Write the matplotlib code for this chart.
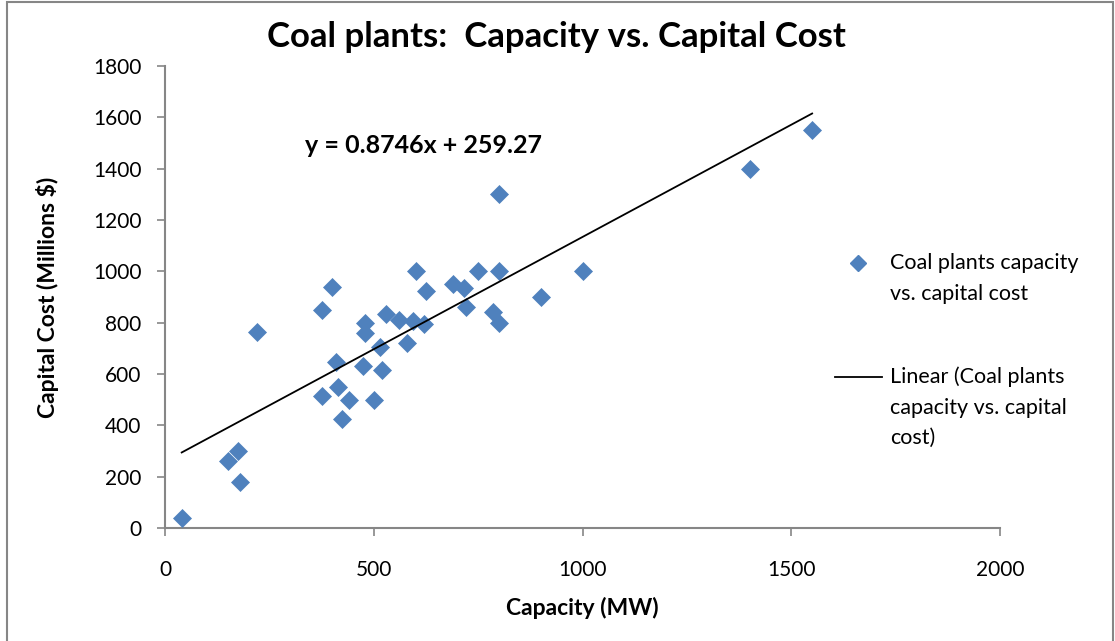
import matplotlib
matplotlib.use("Agg")
import matplotlib.pyplot as plt
from matplotlib.lines import Line2D
from matplotlib.patches import Rectangle
import numpy as np

plt.rcParams['font.family'] = ['Lato', 'DejaVu Sans']

# Plant capacity (MW) and capital cost (millions $)
capacity_mw = [40, 150, 175, 180, 220, 375, 400, 410, 415, 375, 425, 440,
               475, 480, 480, 500, 515, 520, 530, 560, 595, 580, 600, 620,
               625, 690, 715, 720, 750, 785, 800, 800, 800, 900, 1000, 1400, 1550]
capital_cost = [40, 260, 300, 180, 765, 850, 940, 645, 550, 515, 425, 500,
                630, 800, 760, 500, 705, 615, 835, 810, 805, 720, 1000, 795,
                925, 950, 935, 860, 1000, 840, 800, 1000, 1300, 900, 1000, 1400, 1550]

# Linear trendline coefficients
slope = 0.8746
intercept = 259.27

x_ticks = [0, 500, 1000, 1500, 2000]
y_ticks = [0, 200, 400, 600, 800, 1000, 1200, 1400, 1600, 1800]

title = "Coal plants:  Capacity vs. Capital Cost"
x_label = "Capacity (MW)"
y_label = "Capital Cost (Millions $)"
series_label = "Coal plants capacity\nvs. capital cost"
trend_label = "Linear (Coal plants\ncapacity vs. capital\ncost)"

W, H = 1115, 641
fig = plt.figure(figsize=(W / 100, H / 100), dpi=100)
ax = fig.add_axes([165 / W, 1 - 528 / H, (1000 - 165) / W, (528 - 66) / H])

blue = "#4F81BD"
grey = "#868686"

ax.plot(capacity_mw, capital_cost, linestyle="none", marker="D",
        markersize=9.5, color=blue, markeredgecolor=blue, markeredgewidth=0.5,
        zorder=3)

xs = np.array([min(capacity_mw), max(capacity_mw)])
ax.plot(xs, slope * xs + intercept, color="black", linewidth=1.3, zorder=4)

ax.set_xlim(0, 2000)
ax.set_ylim(0, 1800)
ax.set_xticks(x_ticks)
ax.set_yticks(y_ticks)
ax.tick_params(axis="both", direction="out", length=6, width=1.2,
               color=grey, labelsize=15)
ax.tick_params(axis="y", pad=11)
ax.tick_params(axis="x", pad=17)
for side in ("top", "right"):
    ax.spines[side].set_visible(False)
for side in ("left", "bottom"):
    ax.spines[side].set_color(grey)
    ax.spines[side].set_linewidth(1.5)

ax.set_xlabel(x_label, fontsize=16.5, fontweight="bold")
ax.set_ylabel(y_label, fontsize=16.5, fontweight="bold")
ax.xaxis.label.set_va("center")
ax.yaxis.label.set_va("center")
ax.xaxis.set_label_coords(0.5, (528 - 608) / 462)
ax.yaxis.set_label_coords((47 - 165) / 835, 0.5)

ax.text(335, 1490, f"y = {slope}x + {intercept}", fontsize=18,
        fontweight="bold", ha="left", va="center")

fig.text(556 / W, 1 - 37 / H, title, fontsize=25, fontweight="bold",
         ha="center", va="center")

# Legend entries drawn to the right of the plot area
fig.add_artist(Line2D([858 / W], [1 - 263 / H], marker="D", markersize=8,
                      color=blue, linestyle="none", transform=fig.transFigure))
fig.text(890 / W, 1 - 263 / H, series_label.split("\n")[0], fontsize=15.5,
         ha="left", va="center")
fig.text(890 / W, 1 - 294 / H, series_label.split("\n")[1], fontsize=15.5,
         ha="left", va="center")
fig.add_artist(Line2D([835 / W, 882 / W], [1 - 377 / H, 1 - 377 / H],
                      color="black", linewidth=1.3, transform=fig.transFigure))
for i, line in enumerate(trend_label.split("\n")):
    fig.text(890 / W, 1 - (377 + 30.5 * i) / H, line, fontsize=15.5,
             ha="left", va="center")

fig.add_artist(Rectangle((7 / W, -0.01), 1 - 9 / W, 1.01 - 2 / H, fill=False,
                         edgecolor=grey, linewidth=1.5,
                         transform=fig.transFigure))

fig.savefig("out.png", dpi=100, facecolor="white")
